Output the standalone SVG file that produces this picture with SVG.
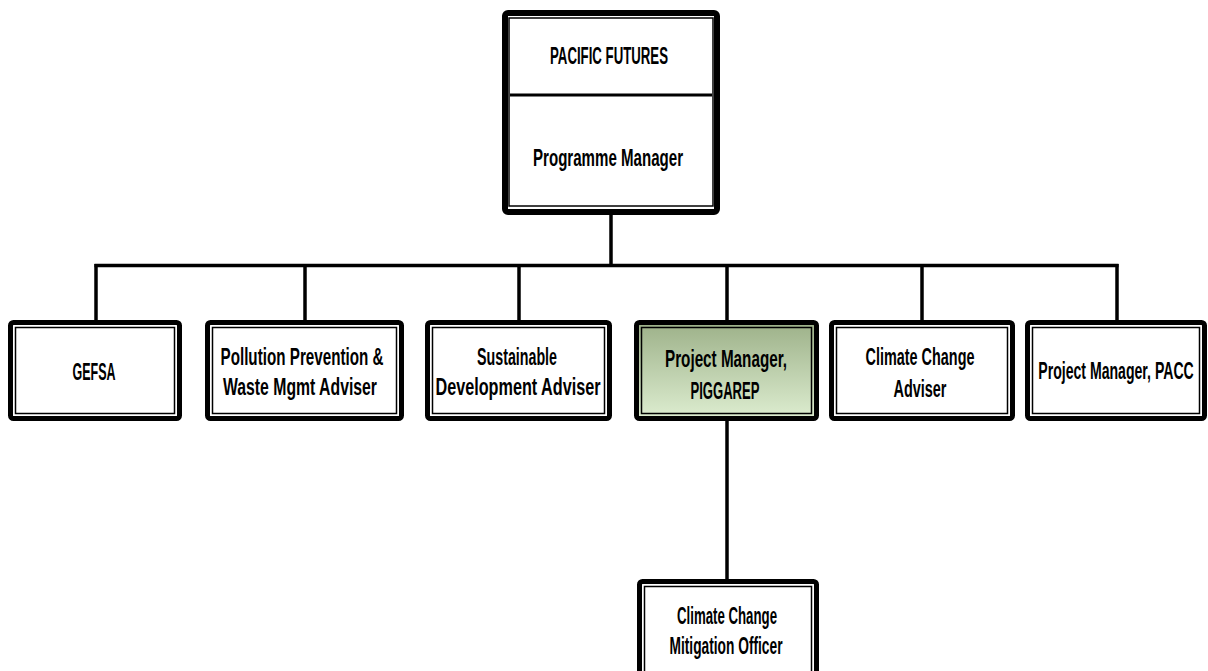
<svg xmlns="http://www.w3.org/2000/svg" width="1208" height="671" viewBox="0 0 1208 671">
<style>
.outer{fill:none;stroke:#000;stroke-width:5}
.inner{fill:none;stroke:#000;stroke-width:1.5}
.bg{fill:#fff}
.t{font-family:"Liberation Sans",Arial,sans-serif;font-weight:bold;font-size:23.5px;fill:#000;text-anchor:middle}
.conn{stroke:#000;stroke-width:3.5;fill:none}
</style>
<defs>
<linearGradient id="grn" x1="0" y1="0" x2="0" y2="1">
<stop offset="0" stop-color="#9db189"/>
<stop offset="1" stop-color="#ddedd0"/>
</linearGradient>
</defs>
<rect width="1208" height="671" fill="#fff"/>
<g id="connectors">
<line class="conn" x1="611" y1="214" x2="611" y2="265.5"/>
<line class="conn" x1="94.5" y1="265.5" x2="1118.5" y2="265.5"/>
<line class="conn" x1="96" y1="264" x2="96" y2="321"/>
<line class="conn" x1="305" y1="264" x2="305" y2="321"/>
<line class="conn" x1="519" y1="264" x2="519" y2="321"/>
<line class="conn" x1="727" y1="264" x2="727" y2="321"/>
<line class="conn" x1="922" y1="264" x2="922" y2="321"/>
<line class="conn" x1="1117" y1="264" x2="1117" y2="321"/>
<line class="conn" x1="727" y1="420" x2="727" y2="580"/>
</g>
<g id="node-pacific">
<rect class="bg" x="505" y="13" width="212" height="199" rx="3" style="stroke:#000;stroke-width:6"/>
<rect class="inner" x="509" y="18" width="204" height="188"/>
<line x1="510" y1="95" x2="712" y2="95" stroke="#000" stroke-width="3"/>
<text class="t" x="609" y="64" textLength="118" lengthAdjust="spacingAndGlyphs">PACIFIC FUTURES</text>
<text class="t" x="608" y="166" textLength="150" lengthAdjust="spacingAndGlyphs">Programme Manager</text>
</g>
<g id="node-gefsa">
<rect class="outer" x="10.5" y="322.5" width="169" height="96" rx="3" style="fill:#fff"/>
<rect class="inner" x="15.5" y="327.5" width="159" height="86"/>
<text class="t" x="94" y="380" textLength="43" lengthAdjust="spacingAndGlyphs">GEFSA</text>
</g>
<g id="node-pollution">
<rect class="outer" x="207.5" y="322.5" width="194" height="96" rx="3" style="fill:#fff"/>
<rect class="inner" x="212.5" y="327.5" width="184" height="86"/>
<text class="t" x="302" y="365" textLength="163" lengthAdjust="spacingAndGlyphs">Pollution Prevention &amp;</text>
<text class="t" x="300" y="395" textLength="154" lengthAdjust="spacingAndGlyphs">Waste Mgmt Adviser</text>
</g>
<g id="node-sustainable">
<rect class="outer" x="427.5" y="322.5" width="182" height="96" rx="3" style="fill:#fff"/>
<rect class="inner" x="432.5" y="327.5" width="172" height="86"/>
<text class="t" x="517" y="365" textLength="80" lengthAdjust="spacingAndGlyphs">Sustainable</text>
<text class="t" x="518" y="395" textLength="165" lengthAdjust="spacingAndGlyphs">Development Adviser</text>
</g>
<g id="node-piggarep">
<rect class="outer" x="636.5" y="322.5" width="180" height="96" rx="3" style="fill:url(#grn)"/>
<rect class="inner" x="641.5" y="327.5" width="170" height="86"/>
<text class="t" x="726" y="367" textLength="122" lengthAdjust="spacingAndGlyphs">Project Manager,</text>
<text class="t" x="725" y="399" textLength="69" lengthAdjust="spacingAndGlyphs">PIGGAREP</text>
</g>
<g id="node-climate">
<rect class="outer" x="831.5" y="322.5" width="181" height="96" rx="3" style="fill:#fff"/>
<rect class="inner" x="836.5" y="327.5" width="171" height="86"/>
<text class="t" x="920" y="365" textLength="109" lengthAdjust="spacingAndGlyphs">Climate Change</text>
<text class="t" x="920" y="397" textLength="53" lengthAdjust="spacingAndGlyphs">Adviser</text>
</g>
<g id="node-pacc">
<rect class="outer" x="1027.5" y="322.5" width="177" height="96" rx="3" style="fill:#fff"/>
<rect class="inner" x="1032.5" y="327.5" width="167" height="86"/>
<text class="t" x="0" y="0" transform="translate(1116 379) scale(0.6 1)">Project Manager, PACC</text>
</g>
<g id="node-mitigation">
<rect class="outer" x="639.5" y="581.5" width="177" height="100" rx="3" style="fill:#fff"/>
<rect class="inner" x="644.5" y="586.5" width="167" height="90"/>
<text class="t" x="727" y="624" textLength="100" lengthAdjust="spacingAndGlyphs">Climate Change</text>
<text class="t" x="726" y="654" textLength="113" lengthAdjust="spacingAndGlyphs">Mitigation Officer</text>
</g>
</svg>
